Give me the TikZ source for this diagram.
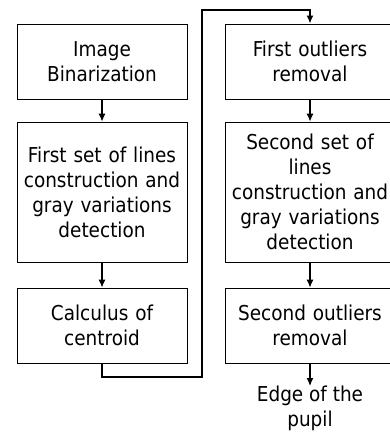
\documentclass[tikz,border=0pt]{standalone}
\usepackage{fontspec}
\setmainfont{DejaVu Sans Condensed}
\usetikzlibrary{arrows.meta}
\tikzstyle{stepbox}=[rectangle,draw=black!100,line width=0.8pt,minimum width=170pt,text width=160pt,align=center,font=\fontsize{20.5}{25}\selectfont]
\tikzstyle{flow}=[-{Latex[length=8pt,width=7pt]},line width=1.2pt]
\tikzstyle{loopback}=[flow,line width=1.6pt]
\tikzstyle{result}=[align=center,inner sep=0pt,font=\fontsize{20.5}{25}\selectfont]

\begin{document}
\begin{tikzpicture}[x=1pt,y=-1pt]
                    \useasboundingbox (0,0) rectangle (390,433);
                    \node (bin) at (102,61.5) [stepbox,minimum height=75pt] {Image\\Binarization};
                    \node (first) at (102,192) [stepbox,minimum height=140pt] {First set of lines construction and gray variations detection};
                    \node (centroid) at (102,325.5) [stepbox,minimum height=75pt] {Calculus of\\centroid};
                    \node (out1) at (310,61.5) [stepbox,minimum height=75pt] {First outliers\\removal};
                    \node (second) at (310,192) [stepbox,minimum height=140pt] {Second set of\\lines\\construction and\\gray variations\\detection};
                    \node (out2) at (310,325.5) [stepbox,minimum height=75pt] {Second outliers\\removal};
                    \node (edge) at (310,386) [result,anchor=north] {Edge of the\\pupil};
                    \coordinate (low) at (202,377);
                    \coordinate (high) at (202,10);

                    \draw [flow] (bin) -- (first);
                    \draw [flow] (first) -- (centroid);
                    \draw [loopback] (centroid.south) |- (low) -- (high) -| (out1.north);
                    \draw [flow] (out1) -- (second);
                    \draw [flow] (second) -- (out2);
                    \draw [flow] (out2) -- (edge);
                \end{tikzpicture}
\end{document}
